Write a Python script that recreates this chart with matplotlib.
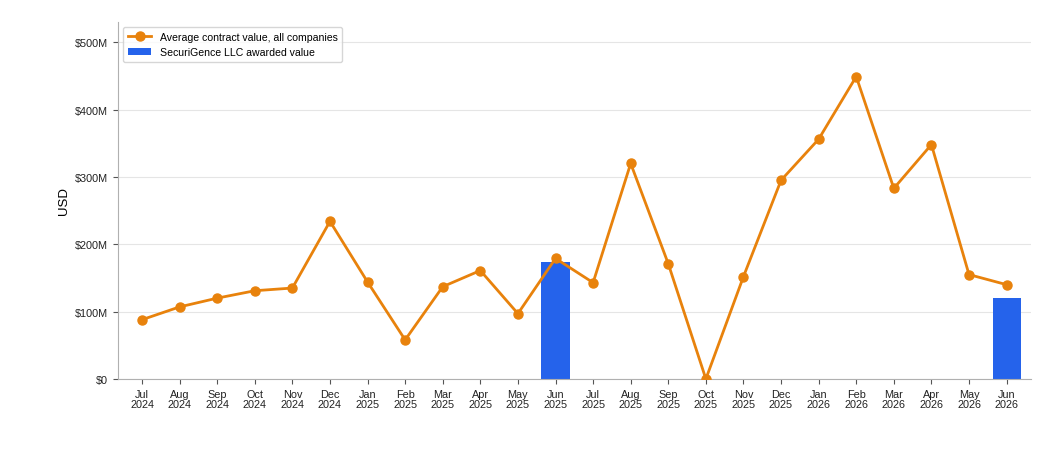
import matplotlib
matplotlib.use("Agg")
import matplotlib.pyplot as plt
import numpy as np

plt.rcParams['font.family'] = ['Liberation Sans', 'DejaVu Sans']

# Data (USD millions)
months = ["Jul\n2024", "Aug\n2024", "Sep\n2024", "Oct\n2024", "Nov\n2024", "Dec\n2024",
          "Jan\n2025", "Feb\n2025", "Mar\n2025", "Apr\n2025", "May\n2025", "Jun\n2025",
          "Jul\n2025", "Aug\n2025", "Sep\n2025", "Oct\n2025", "Nov\n2025", "Dec\n2025",
          "Jan\n2026", "Feb\n2026", "Mar\n2026", "Apr\n2026", "May\n2026", "Jun\n2026"]
avg_value = [88, 107, 120, 131, 135, 234, 144, 58, 137, 161, 97, 179,
             143, 320, 171, 0, 152, 295, 356, 449, 283, 348, 155, 140]
award_months = ["Jun\n2025", "Jun\n2026"]
award_value = [174, 120]

fig = plt.figure(figsize=(10.56, 4.6), dpi=100)
ax = fig.add_axes([0.1117, 0.174, 0.8643, 0.776])

x = np.arange(len(months))
bar_x = [months.index(m) for m in award_months]

ax.plot(x, avg_value, color="#E8820C", lw=2, marker="o", ms=6.5,
        label="Average contract value, all companies", zorder=3)
ax.bar(bar_x, award_value, width=0.75, color="#2563EB",
       label="SecuriGence LLC awarded value", zorder=2)

ax.set_xlim(-0.64, len(months) - 1 + 0.64)
ax.set_ylim(0, 530)
ax.set_xticks(x)
ax.set_xticklabels(months, fontsize=7.8, linespacing=1.05)
ax.set_yticks([0, 100, 200, 300, 400, 500])
ax.set_yticklabels(["$0", "$100M", "$200M", "$300M", "$400M", "$500M"], fontsize=7.8)
ax.set_ylabel("USD", fontsize=9.5, labelpad=4)

ax.grid(axis="y", color="#e5e5e5", lw=0.8, zorder=0)
ax.set_axisbelow(True)
for s in ("top", "right"):
    ax.spines[s].set_visible(False)
for s in ("left", "bottom"):
    ax.spines[s].set_color("#b0b0b0")
ax.tick_params(colors="#222222", length=3.5)
ax.tick_params(axis="both", color="#555555")

leg = ax.legend(loc="upper left", fontsize=7.6, frameon=True, borderpad=0.45,
                handlelength=2.2, handletextpad=0.8, bbox_to_anchor=(0.0, 1.0))
leg.get_frame().set_edgecolor("#cccccc")

fig.savefig("out.png", dpi=100)
